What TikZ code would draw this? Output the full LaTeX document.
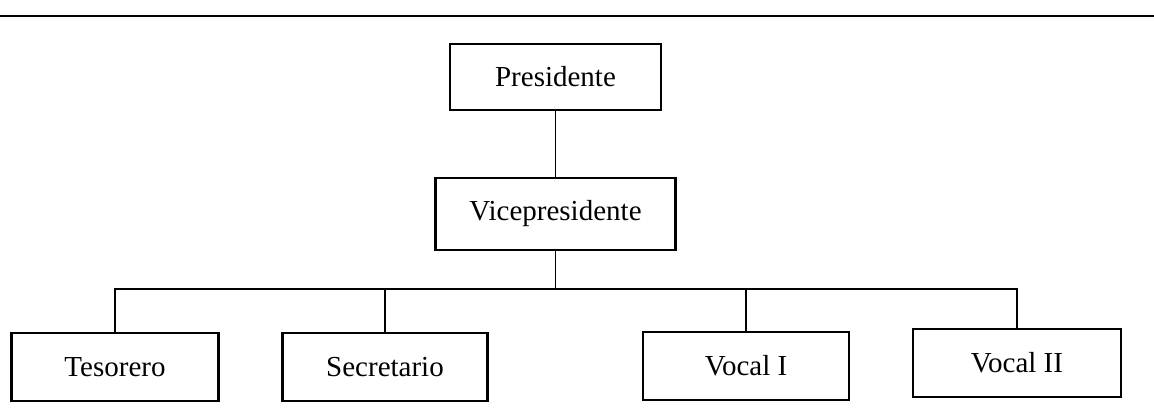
\documentclass[tikz,border=0pt]{standalone}
\usepackage{fontspec}
\setmainfont{Liberation Serif}
\begin{document}
\begin{tikzpicture}[-,x=0.5pt,y=-0.5pt,semithick,node distance=68.5pt,
                    font=\fontsize{14.5}{17}\selectfont]
  \tikzstyle{post}=[draw=black,line width=1.2pt,inner sep=0pt,text=black]
  \tikzstyle{link}=[draw=black,line width=0.9pt]

  \useasboundingbox (0,0) rectangle (1154,409);
  \draw[line width=1pt] (0,16) -- (1154,16);

  \node[post,minimum width=105.5pt,minimum height=33pt] (P) at (555.5,77) {Presidente};
  \node[post,minimum width=120pt,minimum height=36pt]   (V) [below of=P] {Vicepresidente};
  \node[post,minimum width=103.5pt,minimum height=34pt] (T)  at (115,367) {Tesorero};
  \node[post,minimum width=102.5pt,minimum height=34pt] (S)  at (385,367) {Secretario};
  \node[post,minimum width=103pt,minimum height=34pt]   (V1) at (746,366) {Vocal I};
  \node[post,minimum width=104pt,minimum height=34pt]   (V2) at (1017,363) {Vocal II};

  \coordinate (bar) at (V |- 0,289);

  \path[link] (P) edge (V)
              (V) edge (bar);
  \draw[link] (T) |- (bar) -| (V2);
  \draw[link] (S) -- (S |- bar);
  \draw[link] (V1) -- (V1 |- bar);
\end{tikzpicture}
\end{document}
